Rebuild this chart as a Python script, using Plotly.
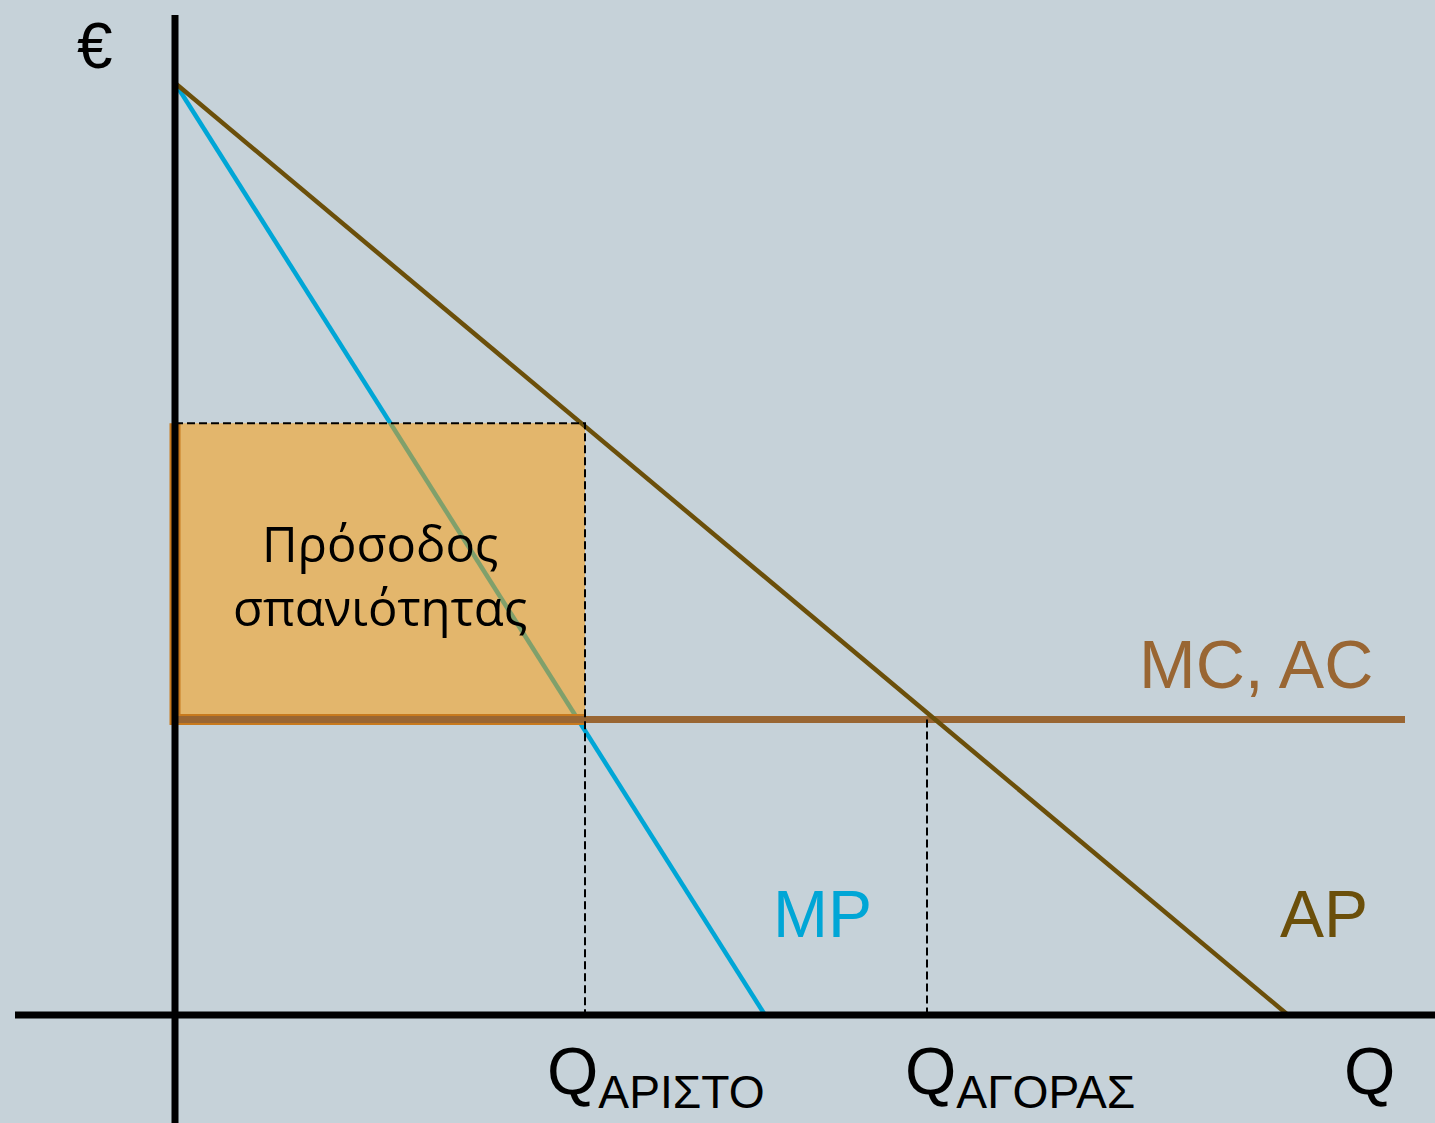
import plotly.graph_objects as go

# economic values (Q = quantity, P = euro)
P_MAX = 10.0          # common intercept of AP and MP
AP_Q_END = 11.13      # AP hits the Q axis
MP_Q_END = 5.9        # MP hits the Q axis
MC = 3.17             # MC = AC, flat
MC_Q_END = 12.3
Q_OPT = 4.1           # Q_ΑΡΙΣΤΟ
Q_MKT = 7.52          # Q_ΑΓΟΡΑΣ
P_RENT = 6.35         # AP at Q_OPT

X_RANGE = [-1.75, 12.6]
Y_RANGE = [-1.159, 10.891]
AXIS_X_START = -1.6
AXIS_Y_END = 10.73

BG = "#C6D2D9"
AP_COLOR = "#6B4F0A"
MP_COLOR = "#00A6D6"
MC_COLOR = "#996633"
RENT_FILL = "rgba(255,153,0,0.5)"
RENT_EDGE = "#C87A1E"

SANS = "Liberation Sans, Arial, sans-serif"


def seg(x, y, color, width, dash="solid"):
    return go.Scatter(x=x, y=y, mode="lines", hoverinfo="skip",
                      line=dict(color=color, width=width, dash=dash))


fig = go.Figure()

# MP sits under the translucent rent box
fig.add_trace(seg([0, MP_Q_END], [P_MAX, 0], MP_COLOR, 4.5))

# rent rectangle
fig.add_trace(go.Scatter(
    x=[0, Q_OPT, Q_OPT, 0, 0], y=[MC, MC, P_RENT, P_RENT, MC],
    mode="none", fill="toself", fillcolor=RENT_FILL, hoverinfo="skip",
))
fig.add_trace(seg([0, 0, Q_OPT], [P_RENT, MC, MC], RENT_EDGE, 11))

fig.add_trace(seg([0, MC_Q_END], [MC, MC], MC_COLOR, 7))
fig.add_trace(seg([0, AP_Q_END], [P_MAX, 0], AP_COLOR, 4.5))

# dashed guides
fig.add_trace(seg([0, Q_OPT, Q_OPT], [P_RENT, P_RENT, 0], "black", 2, "8px,4px"))
fig.add_trace(seg([Q_MKT, Q_MKT], [MC, 0], "black", 2, "8px,4px"))

# axes
fig.add_trace(seg([AXIS_X_START, X_RANGE[1]], [0, 0], "black", 7))
fig.add_trace(seg([0, 0], [Y_RANGE[0], AXIS_Y_END], "black", 7))

labels = [
    dict(x=-0.8, y=10.4, text="€", font=dict(size=64, color="black", family=SANS)),
    dict(x=2.05, y=4.72, text="Πρόσοδος<br>σπανιότητας",
         font=dict(size=49, color="black", family="Open Sans, Noto Sans, sans-serif")),
    dict(x=10.81, y=3.77, text="MC, AC", font=dict(size=68, color=MC_COLOR, family=SANS)),
    dict(x=6.47, y=1.08, text="MP", font=dict(size=66, color=MP_COLOR, family=SANS)),
    dict(x=11.49, y=1.08, text="AP", font=dict(size=66, color=AP_COLOR, family=SANS)),
    dict(x=11.94, y=-0.6, text="Q", font=dict(size=66, color="black", family=SANS)),
    dict(x=3.7, y=-0.65, text="Q<sub>ΑΡΙΣΤΟ</sub>", xanchor="left",
         font=dict(size=66, color="black", family=SANS)),
    dict(x=7.28, y=-0.65, text="Q<sub>ΑΓΟΡΑΣ</sub>", xanchor="left",
         font=dict(size=66, color="black", family=SANS)),
]
for a in labels:
    fig.add_annotation(xref="x", yref="y", showarrow=False, **a)

fig.update_xaxes(range=X_RANGE, visible=False, fixedrange=True)
fig.update_yaxes(range=Y_RANGE, visible=False, fixedrange=True)
fig.update_layout(
    width=1435, height=1123,
    margin=dict(l=0, r=0, t=0, b=0),
    paper_bgcolor=BG, plot_bgcolor=BG,
    showlegend=False,
)

fig.write_html("out.html", config={"displayModeBar": False},
               post_script="document.body.style.margin='0';")
